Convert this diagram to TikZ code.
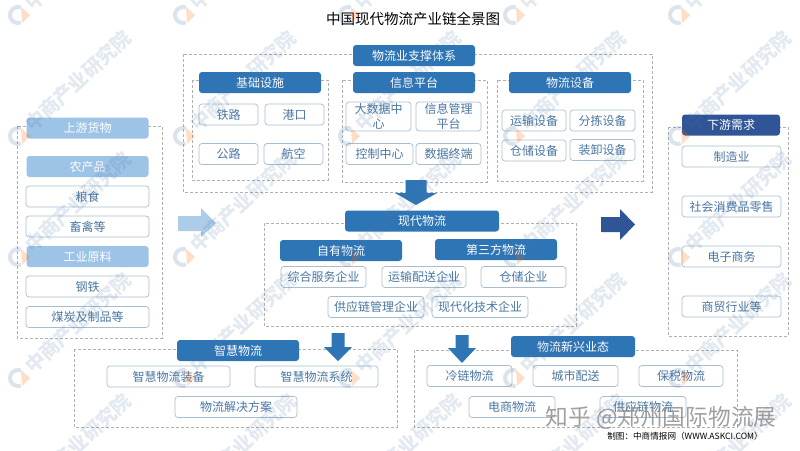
\documentclass[tikz,border=0pt]{standalone}
\usepackage{fontspec}
\setmainfont{Noto Sans CJK SC}
\definecolor{headblue}{HTML}{2E75B6}
\definecolor{headlite}{HTML}{9DC3E6}
\definecolor{headdark}{HTML}{2F5597}
\definecolor{boxline}{HTML}{A9BDD0}
\definecolor{boxtext}{HTML}{4A76A2}
\definecolor{frameline}{HTML}{B0B0B0}
\tikzstyle{basebox}=[rounded corners=3pt, inner sep=0pt, font=\fontsize{12}{14.5}\selectfont, align=center]
\tikzstyle{head}=[basebox, fill=headblue, text=white, minimum height=21pt]
\tikzstyle{itembox}=[basebox, draw=boxline, line width=0.7pt, fill=white, text=boxtext, minimum height=21pt]
\tikzstyle{frame}=[draw=frameline, line width=0.6pt, dash pattern=on 3pt off 2pt]
\tikzstyle{wmtext}=[text=boxtext, opacity=0.16, rotate=43, inner sep=0pt, font=\fontsize{19.5}{20}\selectfont\bfseries]

\begin{document}
\begin{tikzpicture}[x=1pt, y=-1pt]
        \useasboundingbox (0,0) rectangle (800,450);

        \node (title) at (413,19) {\fontsize{14.5}{16}\selectfont 中国现代物流产业链全景图};

        % dashed frames
        \foreach \a/\b/\c/\d in {183/54/652/192, 192/80/328/180, 342/80/487/182, 497/80/643/181,
            17/126/162/338, 264/223/576/326, 668/127/788/336, 74/349/397/427, 414/350/737/427}
        {
          \draw [frame] (\a,\b) rectangle (\c,\d);
        }

        % headers
        \foreach \n/\x/\y/\w/\t in {support/414/55.5/122/物流业支撑体系, base/260/82.5/122/基础设施,
            info/414/82.5/122/信息平台, equip/570/82.5/122/物流设备, modern/422/221/154/现代物流,
            own/341/250.5/122/自有物流, third/496/249.5/122/第三方物流,
            smart/238/350.5/122/智慧物流, emerge/573/346.5/124/物流新兴业态}
        {
          \node [head, minimum width=\w pt] (\n) at (\x,\y) {\t};
        }
        \foreach \n/\y/\t in {up/128/上游货物, farm/166.5/农产品, ind/256.5/工业原料}
        {
          \node [head, fill=headlite, minimum width=122pt] (\n) at (87.5,\y) {\t};
        }
        \node [head, fill=headdark, minimum width=98pt] (down) at (731,125) {下游需求};

        % item boxes
        \foreach \n/\x/\y/\w/\t in {rail/228.5/114.5/59/铁路, port/294.5/114.5/59/港口,
            road/228.5/154/59/公路, air/293.5/154/59/航空,
            ctrl/379.5/154/67/控制中心, term/448.5/154/65/数据终端,
            trans/534/120.5/64/运输设备, sort/602.5/120.5/65/分拣设备,
            store/534/150.5/64/仓储设备, load/602.5/150/65/装卸设备,
            gen/323.5/277/85/综合服务企业, dist/424/277/84/运输配送企业, ware/523.5/277/85/仓储企业,
            scm/376/307/96/供应链管理企业, tech/480/307/96/现代化技术企业,
            sequip/168.5/376.5/123/智慧物流装备, ssys/316.5/376.5/123/智慧物流系统, sol/236/407/122/物流解决方案,
            cold/469.5/376/85/冷链物流, city/575.5/376/85/城市配送, bond/681/376/84/保税物流,
            ebiz/512/407/86/电商物流, chain/643/407/86/供应链物流}
        {
          \node [itembox, minimum width=\w pt] (\n) at (\x,\y) {\t};
        }
        \node [itembox, minimum width=65pt, minimum height=29pt] (data) at (378.5,116.5) {大数据中\\心};
        \node [itembox, minimum width=65pt, minimum height=29pt] (mgmt) at (448.5,116.5) {信息管理\\平台};
        \foreach \n/\y/\t in {grain/196.5/粮食, stock/226.5/畜禽等, steel/286.5/钢铁, coal/317/煤炭及制品等}
        {
          \node [itembox, minimum width=123pt] (\n) at (87.5,\y) {\t};
        }
        \foreach \n/\y/\t in {mfg/156.5/制造业, retail/206.5/社会消费品零售, ecom/256.5/电子商务, trade/306.5/商贸行业等}
        {
          \node [itembox, minimum width=99pt] (\n) at (731.5,\y) {\t};
        }

        % block arrows
        \foreach \x/\t/\k/\h/\p/\q in {416/180/193/205/21/10.5, 338/333/347/361/14/6.5, 462/335/348/363/14/6.5}
        {
          \fill [headblue] (\x-\q,\t) -- (\x+\q,\t) -- (\x+\q,\k) -- (\x+\p,\k) -- (\x,\h)
            -- (\x-\p,\k) -- (\x-\q,\k) -- cycle;
        }
        \fill [headlite!85!white] (178,216) -- (201,216) -- (201,208) -- (216,223) -- (201,237)
            -- (201,231) -- (178,231) -- cycle;
        \fill [headdark] (601,217) -- (620,217) -- (620,209) -- (635,224.5) -- (620,240)
            -- (620,232) -- (601,232) -- cycle;

        % watermark
        \begin{scope}
          \clip (0,0) rectangle (800,450);
          \foreach \i in {0, ..., 4}
          {
            \foreach \j in {0, ..., 4}
            {
              \draw [boxtext, opacity=0.2, line width=4pt] (18+\i*165,15+\j*121) ++(70:8) arc [start angle=70, end angle=290, radius=8];
              \fill [orange!80!red, opacity=0.22] (21+\i*165,7+\j*121) -- (30+\i*165,15+\j*121) -- (22+\i*165,23+\j*121) -- cycle;
              \node [wmtext] (wm\i\j) at (78+\i*165,-40+\j*121) {中商产业研究院};
            }
          }
        \end{scope}

        \node [text=black!50, opacity=0.75] (zhihu) at (661,418) {\fontsize{22.7}{24}\selectfont 知乎 @郑州国际物流展};
        \node (source) at (685,436) {\fontsize{8.6}{10}\selectfont 制图：中商情报网（WWW.ASKCI.COM）};
      \end{tikzpicture}
\end{document}
